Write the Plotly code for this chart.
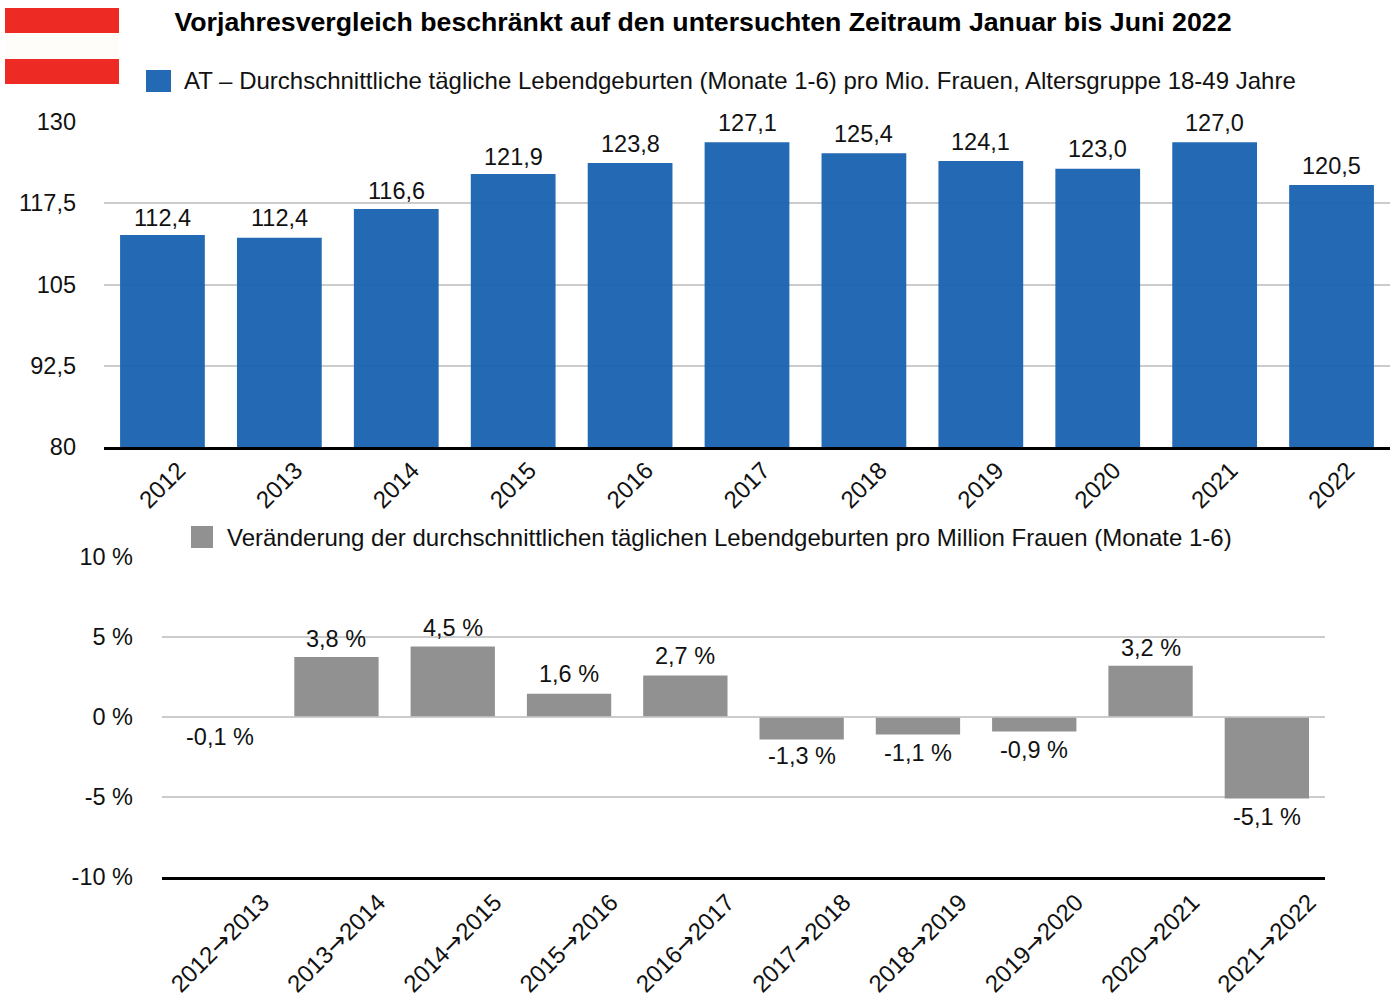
import plotly.graph_objects as go

W, H = 1397, 996

title = "Vorjahresvergleich beschränkt auf den untersuchten Zeitraum Januar bis Juni 2022"
legend_top = "AT – Durchschnittliche tägliche Lebendgeburten (Monate 1-6) pro Mio. Frauen, Altersgruppe 18-49 Jahre"
legend_bottom = "Veränderung der durchschnittlichen täglichen Lebendgeburten pro Million Frauen (Monate 1-6)"

years = ["2012", "2013", "2014", "2015", "2016", "2017", "2018", "2019", "2020", "2021", "2022"]
birth_values = [112.6, 112.2, 116.6, 122.0, 123.7, 126.9, 125.2, 124.0, 122.8, 126.9, 120.3]
birth_labels = ["112,4", "112,4", "116,6", "121,9", "123,8", "127,1", "125,4", "124,1", "123,0", "127,0", "120,5"]
top_tick_vals = [80, 92.5, 105, 117.5, 130]
top_tick_text = ["80", "92,5", "105", "117,5", "130"]

periods = ["2012→2013", "2013→2014", "2014→2015", "2015→2016", "2016→2017",
           "2017→2018", "2018→2019", "2019→2020", "2020→2021", "2021→2022"]
change_values = [0, 3.75, 4.4, 1.45, 2.6, -1.4, -1.1, -0.9, 3.2, -5.1]
change_labels = ["-0,1 %", "3,8 %", "4,5 %", "1,6 %", "2,7 %", "-1,3 %", "-1,1 %", "-0,9 %", "3,2 %", "-5,1 %"]
bottom_tick_vals = [-10, -5, 0, 5, 10]
bottom_tick_text = ["-10 %", "-5 %", "0 %", "5 %", "10 %"]

BLUE_OPAQUE, BLUE, GREY, RED, CREAM = "#2369b3", "#1761af", "#919191", "#ee2a24", "#fffdf9"
FONT = "Liberation Sans"
INK = "#111111"


def px(x):
    return x / W


def py(y):
    return 1 - y / H


def label_number(label):
    return float(label.replace(" %", "").replace(",", "."))


fig = go.Figure()
fig.add_bar(x=years, y=birth_values, name=legend_top, marker_color=BLUE, marker_opacity=0.95,
            marker_line_width=0, xaxis="x", yaxis="y", showlegend=False)
fig.add_bar(x=periods, y=change_values, name=legend_bottom, marker_color=GREY, marker_line_width=0,
            xaxis="x2", yaxis="y2", showlegend=False)

label_font = dict(size=23.5, color=INK, family=FONT)
annotations = []
for i, label in enumerate(birth_labels):
    annotations.append(dict(x=i, y=label_number(label), xref="x", yref="y", text=label, showarrow=False,
                            yanchor="middle", yshift=18, font=label_font))
for i, label in enumerate(change_labels):
    number = label_number(label)
    annotations.append(dict(x=i, y=number, xref="x2", yref="y2", text=label, showarrow=False,
                            yanchor="middle", yshift=17.5 if number > 0 else -18.5, font=label_font))
legend_font = dict(size=24, color=INK, family=FONT)
annotations.append(dict(x=px(182), y=py(80), xref="paper", yref="paper", text=legend_top, showarrow=False,
                        xanchor="left", yanchor="middle", font=legend_font))
annotations.append(dict(x=px(225), y=py(537), xref="paper", yref="paper", text=legend_bottom, showarrow=False,
                        xanchor="left", yanchor="middle", font=legend_font))


def rect(x0, y0, x1, y1, color):
    return dict(type="rect", xref="paper", yref="paper", x0=px(x0), x1=px(x1), y0=py(y0), y1=py(y1),
                fillcolor=color, line_width=0, layer="above")


shapes = [rect(5, 8, 119, 33, RED), rect(5, 33, 119, 59, CREAM), rect(5, 59, 119, 84, RED),
          rect(146, 70, 171, 92, BLUE_OPAQUE), rect(191, 526, 213, 548, GREY),
          dict(type="line", xref="x2 domain", yref="y2", x0=0, x1=1, y0=0, y1=0,
               line=dict(color="#cccccc", width=1.6), layer="above")]

y_font = dict(size=23.5, color=INK, family=FONT)
x_font = dict(size=24, color=INK, family=FONT)
grid = dict(showgrid=True, gridcolor="#cccccc", gridwidth=1.6, zeroline=False, automargin=False)
x_common = dict(type="category", tickangle=-45, tickfont=x_font, showgrid=False, showline=True,
                linecolor="#000000", linewidth=2.5, ticks="", automargin=False)

period_ticks = [p.replace("→", '<span style="font-family:DejaVu Sans">→</span>') for p in periods]

fig.update_layout(
    width=W, height=H, autosize=False,
    margin=dict(l=0, r=0, t=0, b=0),
    paper_bgcolor="white", plot_bgcolor="white",
    font=dict(family=FONT),
    title=dict(text=title, x=px(703), xanchor="center", y=py(22), yanchor="middle",
               font=dict(size=26.7, color="#000000", family=FONT, weight="bold")),
    bargap=0.275,
    annotations=annotations, shapes=shapes,
    xaxis=dict(domain=[px(104), px(1390)], range=[-0.5, 10.5], ticklabelshift=16, ticklabelstandoff=-3, **x_common),
    yaxis=dict(domain=[py(447), py(122)], range=[80, 130], tickvals=top_tick_vals, ticktext=top_tick_text,
               tickfont=y_font, ticks="", ticklabelstandoff=27, **grid),
    xaxis2=dict(domain=[px(162), px(1325)], range=[-0.5, 9.5], anchor="y2",
                tickvals=periods, ticktext=period_ticks, ticklabelshift=42, ticklabelstandoff=-1, **x_common),
    yaxis2=dict(domain=[py(877), py(557)], range=[-10, 10], anchor="x2", tickvals=bottom_tick_vals,
                ticktext=bottom_tick_text, tickfont=y_font, ticks="", ticklabelstandoff=28, **grid),
)

fig.write_html("out.html", config=dict(displayModeBar=False),
               post_script="document.body.style.margin='0';")
